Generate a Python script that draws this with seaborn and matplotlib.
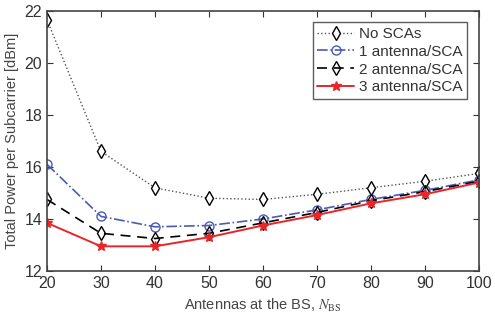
import numpy as np
import pandas as pd
import matplotlib
matplotlib.use("Agg")
import matplotlib.pyplot as plt
import seaborn as sns

antennas = [20, 30, 40, 50, 60, 70, 80, 90, 100]
no_sca = [21.65, 16.6, 15.2, 14.8, 14.75, 14.95, 15.2, 15.45, 15.75]
one_sca = [16.1, 14.1, 13.7, 13.75, 14.0, 14.35, 14.75, 15.1, 15.5]
two_sca = [14.75, 13.45, 13.25, 13.45, 13.85, 14.25, 14.7, 15.05, 15.45]
three_sca = [13.85, 12.95, 12.95, 13.3, 13.75, 14.15, 14.6, 14.95, 15.4]

labels = ["No SCAs", "1 antenna/SCA", "2 antenna/SCA", "3 antenna/SCA"]

sns.set_style("ticks")
plt.rcParams['font.family'] = ['Liberation Sans', 'DejaVu Sans']
plt.rcParams['mathtext.fontset'] = 'stix'

fig = plt.figure(figsize=(4.95, 3.2), dpi=100)
ax = fig.add_axes([0.095, 0.153, 0.872, 0.813])

styles = [
    dict(color="#555555", linestyle=":", marker="d", mfc="white", mec="black", ms=7.5, lw=1.0),
    dict(color="#4a5bb5", linestyle="-.", marker="o", mfc="none", mec="#4a5bb5", ms=6.5, lw=1.2),
    dict(color="black", linestyle=(0, (6, 4)), marker="d", mfc="none", mec="black", ms=7.5, lw=1.2),
    dict(color="#e8262a", linestyle="-", marker="*", mfc="#e8262a", mec="#e8262a", ms=7, lw=1.4),
]

for vals, lab, st in zip([no_sca, one_sca, two_sca, three_sca], labels, styles):
    df = pd.DataFrame({"x": antennas, "y": vals})
    sns.lineplot(data=df, x="x", y="y", ax=ax, label=lab, color=st["color"],
                 linestyle=st["linestyle"], marker=st["marker"], markerfacecolor=st["mfc"],
                 markeredgecolor=st["mec"], markersize=st["ms"], linewidth=st["lw"],
                 markeredgewidth=1.0)

ax.set_xlim(20, 100)
ax.set_ylim(12, 22)
ax.set_xticks(antennas)
ax.set_yticks([12, 14, 16, 18, 20, 22])
ax.tick_params(direction="in", top=True, right=True, labelsize=11.5, length=4, colors="#333333")
for s in ax.spines.values():
    s.set_color("#444444")
    s.set_linewidth(1.2)
ax.set_xlabel("Antennas at the BS, $N_{\\mathrm{BS}}$", fontsize=10.5, color="#444444")
ax.set_ylabel("Total Power per Subcarrier [dBm]", fontsize=10.5, color="#444444")

leg = ax.legend(loc="upper right", fontsize=11, frameon=True, fancybox=False,
                handlelength=2.4, borderpad=0.3, labelspacing=0.25, handletextpad=0.3,
                bbox_to_anchor=(0.99, 0.985))
leg.get_frame().set_edgecolor("#333333")
leg.get_frame().set_linewidth(1.0)
for t in leg.get_texts():
    t.set_color("#333333")

fig.savefig("out.png", dpi=100)
